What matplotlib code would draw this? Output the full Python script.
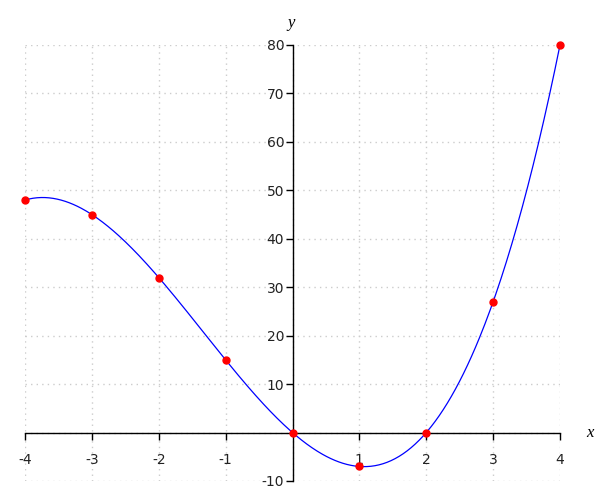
import numpy as np
import matplotlib
matplotlib.use('Agg')
import matplotlib.pyplot as plt

# sample points shown as red dots
xs = [-4, -3, -2, -1, 0, 1, 2, 3, 4]
ys = [48, 45, 32, 15, 0, -7, 0, 27, 80]

x_ticks = [-4, -3, -2, -1, 1, 2, 3, 4]
y_ticks = [-10, 10, 20, 30, 40, 50, 60, 70, 80]

# smooth curve through the points (cubic fit of the samples)
coef = np.polyfit(xs, ys, 3)
xc = np.linspace(min(xs), max(xs), 400)
yc = np.polyval(coef, xc)

fig = plt.figure(figsize=(6, 5), dpi=100)
ax = fig.add_axes([25 / 600, 1 - 481 / 500, 535 / 600, 436 / 500])

ax.set_xlim(-4, 4)
ax.set_ylim(-10, 80)

# dotted grid
for gx in range(-4, 5):
    ax.axvline(gx, color='#cccccc', lw=1, ls=(0, (1, 3)), zorder=0)
for gy in range(-10, 81, 10):
    ax.axhline(gy, color='#cccccc', lw=1, ls=(0, (1, 3)), zorder=0)

ax.plot(xc, yc, color='blue', lw=0.9, zorder=2, clip_on=False)
ax.plot(xs, ys, 'o', color='red', ms=5, zorder=3, clip_on=False)

for side in ['top', 'right']:
    ax.spines[side].set_visible(False)
ax.spines['left'].set_position(('data', 0))
ax.spines['bottom'].set_position(('data', 0))
ax.spines['left'].set_linewidth(1)
ax.spines['bottom'].set_linewidth(1)

ax.set_xticks(x_ticks)
ax.set_yticks(y_ticks)
ax.set_xticklabels([str(t) for t in x_ticks])
ax.set_yticklabels([str(t) for t in y_ticks])
ax.tick_params(axis='both', direction='out', length=5, width=1,
               labelsize=10, colors='black', labelcolor='#222222')
ax.tick_params(axis='x', pad=10)
ax.tick_params(axis='y', pad=1)

ax.annotate('x', xy=(1, 0), xycoords=('axes fraction', 'data'),
            xytext=(30, 0), textcoords='offset pixels',
            ha='center', va='center', fontsize=12, style='italic',
            family='Liberation Serif', annotation_clip=False)
ax.annotate('y', xy=(0, 1), xycoords=('data', 'axes fraction'),
            xytext=(-1, 22), textcoords='offset pixels',
            ha='center', va='center', fontsize=12, style='italic',
            family='Liberation Serif', annotation_clip=False)

fig.savefig('out.png', dpi=100)
